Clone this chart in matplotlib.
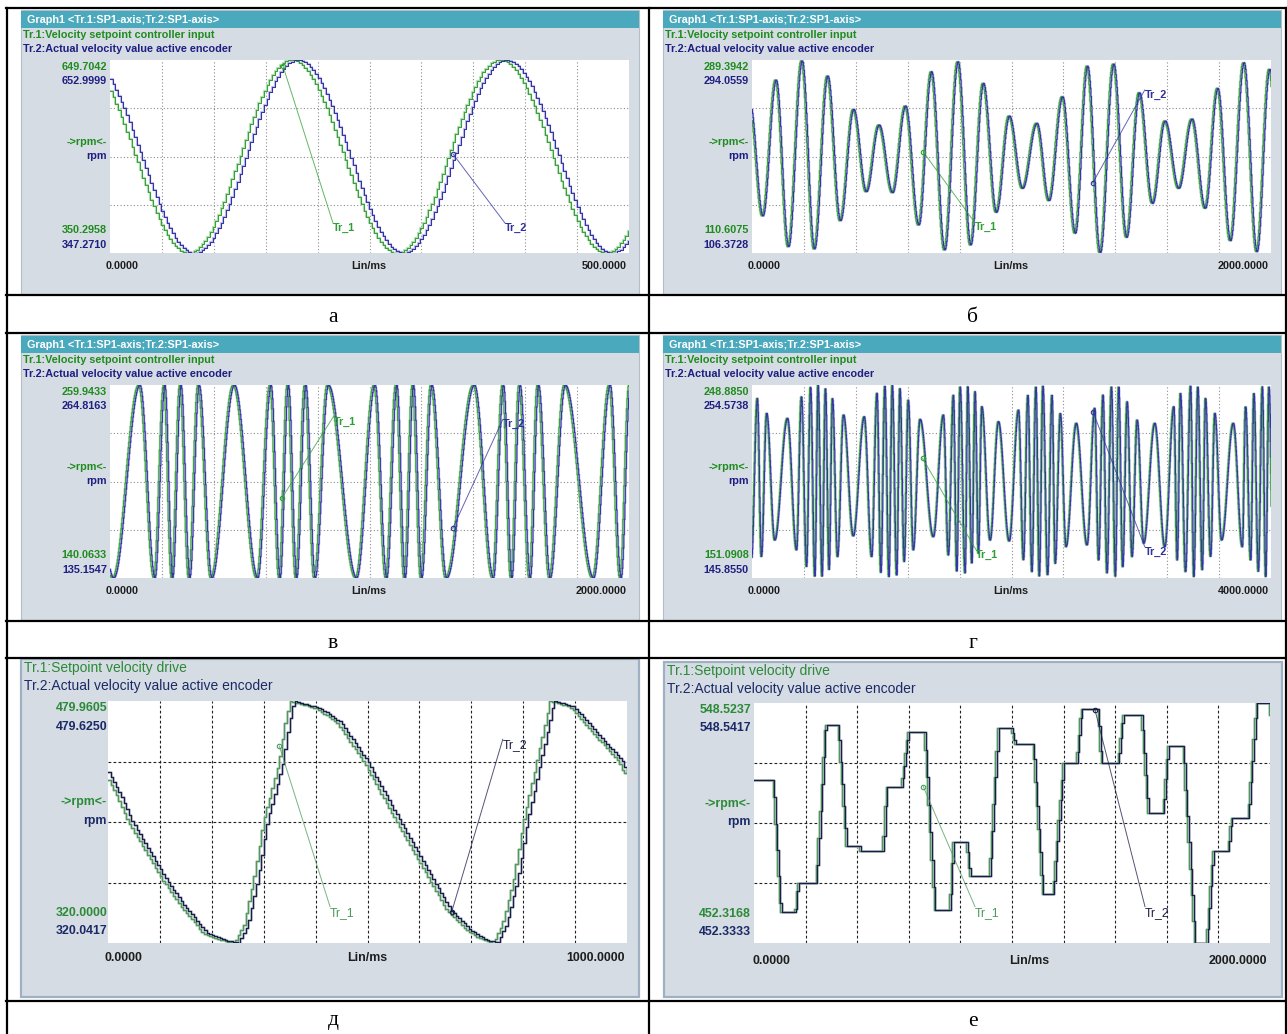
import numpy as np
import matplotlib
matplotlib.use('Agg')
import matplotlib.pyplot as plt
from matplotlib.patches import Rectangle
from matplotlib.lines import Line2D

# ---------------- values ----------------
# а-г: times (ms) of the turning points of Tr.1 and the speed there (rpm),
# Tr.2 is the same signal a few ms later
a_t = [-27, 75, 174, 276, 375, 477, 578]
a_v = [649.7, 350.3, 649.7, 350.3, 649.7, 350.3, 649.7]
a_lag = 6
a_xmax = 500
a_range = (350.2958, 649.7042)
a_ylabels = ['649.7042', '652.9999', '350.2958', '347.2710']
a_tags = [(166.7, 640.0, 214.8, 396.8), (330.4, 503.9, 380.5, 396.8)]

b_t = [-13, 37, 88, 136, 188, 236, 287, 336, 387, 436,
       485, 537, 587, 638, 687, 738, 789, 838, 887, 937,
       987, 1038, 1093, 1140, 1192, 1241, 1288, 1337, 1389, 1439,
       1488, 1539, 1587, 1640, 1691, 1742, 1790, 1839, 1891, 1941,
       1990, 2040]
b_v = [250.0, 144.9, 270.9, 116.4, 288.7, 114.3, 274.6, 140.5, 243.7, 167.4,
       229.2, 166.5, 246.8, 136.5, 278.6, 113.4, 287.8, 118.0, 267.8, 148.3,
       237.5, 170.5, 230.8, 159.1, 255.4, 128.9, 283.8, 110.8, 285.7, 125.1,
       259.1, 156.6, 232.9, 170.5, 234.7, 152.0, 263.2, 122.0, 286.9, 111.8,
       280.8, 115.0]
b_lag = 5
b_xmax = 2000
b_range = (110.6075, 289.3942)
b_ylabels = ['289.3942', '294.0559', '110.6075', '106.3728']
b_tags = [(660.2, 204.2, 857.1, 139.3), (1312.7, 175.4, 1513.5, 261.6)]

v_t = [-95, 8, 109, 167, 205, 235, 267, 301, 337, 386,
       473, 563, 614, 649, 681, 713, 748, 784, 835, 944,
       1015, 1060, 1099, 1131, 1163, 1195, 1234, 1291, 1398, 1471,
       1510, 1542, 1574, 1613, 1645, 1690, 1748, 1857, 1921, 1963,
       1998, 2040]
v_v = [259.9, 140.1, 259.9, 140.1, 259.9, 140.1, 259.9, 140.1, 259.9, 140.1,
       259.9, 140.1, 259.9, 140.1, 259.9, 140.1, 259.9, 140.1, 259.9, 140.1,
       259.9, 140.1, 259.9, 140.1, 259.9, 140.1, 259.9, 140.1, 259.9, 140.1,
       259.9, 140.1, 259.9, 140.1, 259.9, 140.1, 259.9, 140.1, 259.9, 140.1,
       259.9, 140.1]
v_lag = 6
v_xmax = 2000
v_range = (140.0633, 259.9433)
v_ylabels = ['259.9433', '264.8163', '140.0633', '135.1547']
v_tags = [(661.9, 189.6, 860.8, 240.3), (1321.0, 170.9, 1513.8, 238.6)]

g_t = [-10, 36, 67, 108, 170, 268, 338, 376, 415, 446,
       479, 504, 535, 561, 589, 615, 654, 700, 775, 860,
       917, 958, 988, 1019, 1050, 1076, 1110, 1135, 1168, 1199,
       1238, 1290, 1392, 1470, 1508, 1547, 1573, 1599, 1637, 1658,
       1689, 1714, 1740, 1766, 1830, 1894, 1977, 2049, 2087, 2121,
       2152, 2183, 2209, 2237, 2273, 2307, 2332, 2371, 2415, 2494,
       2577, 2636, 2666, 2700, 2731, 2765, 2795, 2821, 2852, 2886,
       2924, 2963, 3014, 3099, 3176, 3246, 3272, 3297, 3336, 3375,
       3400, 3431, 3465, 3490, 3529, 3562, 3614, 3704, 3774, 3799,
       3838, 3863, 3897, 3928, 3954, 3979, 4015]
g_v = [160.0, 242.1, 161.9, 234.5, 170.3, 232.0, 165.3, 242.9, 156.8, 247.7,
       151.8, 248.9, 151.8, 247.2, 155.1, 242.1, 161.9, 233.7, 172.4, 232.8,
       161.9, 244.7, 153.9, 248.4, 151.8, 248.9, 152.6, 247.2, 159.4, 241.3,
       165.3, 231.5, 172.0, 233.7, 162.7, 243.8, 154.3, 248.0, 153.5, 248.0,
       158.5, 245.5, 163.6, 237.9, 170.3, 230.3, 169.8, 236.2, 160.2, 243.8,
       154.3, 248.0, 151.8, 248.4, 152.6, 243.8, 158.5, 234.5, 166.9, 229.5,
       167.8, 237.1, 160.2, 243.8, 153.5, 248.0, 151.8, 248.0, 156.8, 240.4,
       161.9, 231.2, 168.7, 229.5, 166.9, 237.9, 160.2, 244.7, 154.3, 248.4,
       151.8, 248.0, 155.1, 242.1, 161.9, 234.5, 170.3, 229.5, 166.9, 237.9,
       160.2, 244.7, 154.3, 248.0, 151.8, 248.0, 152.0]
g_lag = 6
g_xmax = 4000
g_range = (151.0908, 248.8850)
g_ylabels = ['248.8850', '254.5738', '151.0908', '145.8550']
g_tags = [(1315.0, 211.7, 1727.4, 165.3), (2627.8, 235.4, 3027.0, 166.9)]

# д: points along Tr.2 (ms, rpm), Tr.1 runs d_lead ms ahead
d_t = [0, 23, 45.7, 81, 113.1, 148, 190.2, 225, 250.5, 267.9,
       286.5, 305.8, 336.6, 347, 357.1, 408.5, 447, 498.5, 562.7, 626.9,
       659, 697.6, 726, 749, 766, 787.6, 806.8, 832.5, 848, 858.1,
       896.6, 989.9, 1000.7]
d_v = [433.2, 417.8, 400.2, 379.5, 361.2, 343.8, 326.6, 322.0, 320.0, 331.9,
       361.2, 400.2, 440.3, 464.1, 480.0, 475.1, 466.0, 440.3, 400.2, 361.2,
       341.8, 328.6, 322.6, 320.0, 331.9, 361.2, 400.2, 440.3, 464.1, 480.0,
       476.2, 440.3, 432.4]
d_lead = 8
d_xmax = 1000
d_range = (320.0, 479.9605)
d_ylabels = ['479.9605', '479.6250', '320.0000', '320.0417']
d_tags = [(330.1, 450.2, 427.8, 344.0), (662.3, 340.7, 760.6, 454.6)]

# е: corner points of Tr.1 (ms, rpm), Tr.2 follows e_lag ms later
e_t = [0, 68, 98, 155, 165, 236, 271, 320, 353, 404,
       408, 495, 508, 566, 592, 656, 695, 753, 766, 818,
       831, 908, 941, 992, 1005, 1076, 1115, 1154, 1193, 1244,
       1263, 1328, 1341, 1406, 1425, 1496, 1522, 1580, 1600, 1658,
       1703, 1748, 1774, 1832, 1845, 1910, 1942, 1993, 2000]
e_v = [517.7, 517.7, 464.9, 464.9, 476.5, 476.5, 539.7, 539.7, 491.2, 491.2,
       489.3, 489.3, 515.0, 515.0, 537.0, 537.0, 465.5, 465.5, 492.9, 492.9,
       479.2, 479.2, 538.4, 538.4, 532.1, 532.1, 471.9, 471.9, 524.3, 524.3,
       546.0, 546.0, 524.3, 524.3, 543.7, 543.7, 504.5, 504.5, 531.3, 531.3,
       452.3, 452.3, 489.3, 489.3, 502.3, 502.3, 548.4, 548.4, 541.7]
e_lag = 6
e_xmax = 2000
e_range = (452.3168, 548.5237)
e_ylabels = ['548.5237', '548.5417', '452.3168', '452.3333']
e_tags = [(656.2, 515.0, 856.6, 466.9), (1321.7, 545.7, 1515.5, 466.9)]

captions = ['а', 'б', 'в', 'г', 'д', 'е']

# ---------------- look ----------------
W, H = 1287, 1034
PANEL = '#d6dce4'
TEAL = '#4aa9bd'
GREEN = '#1e8c1e'
NAVY = '#1f1f82'
INK = '#1e1e1e'
SANS = 'Liberation Sans'

fig = plt.figure(figsize=(W / 100, H / 100), dpi=100)
fig.patch.set_facecolor('white')


def fbox(x0, y0, x1, y1):
    return [x0 / W, 1 - y1 / H, (x1 - x0) / W, (y1 - y0) / H]


def rect(x0, y0, x1, y1, **kw):
    l, b, w, h = fbox(x0, y0, x1, y1)
    fig.add_artist(Rectangle((l, b), w, h, transform=fig.transFigure, **kw))


def line(xs, ys, **kw):
    fig.add_artist(Line2D([x / W for x in xs], [1 - y / H for y in ys],
                          transform=fig.transFigure, **kw))


def ftext(x, y, s, **kw):
    kw.setdefault('va', 'center')
    kw.setdefault('family', SANS)
    fig.text(x / W, 1 - y / H, s, **kw)


def wave(t, ext_t, ext_v):
    # half cosine between neighbouring turning points
    ext_t = np.asarray(ext_t, float)
    ext_v = np.asarray(ext_v, float)
    i = np.clip(np.searchsorted(ext_t, t, side='right') - 1, 0, len(ext_t) - 2)
    f = np.clip((t - ext_t[i]) / (ext_t[i + 1] - ext_t[i]), 0, 1)
    return ext_v[i] + (ext_v[i + 1] - ext_v[i]) * (1 - np.cos(np.pi * f)) / 2


def plot_axes(box, xmax, yr, grid):
    ax = fig.add_axes(fbox(*box))
    ax.set_facecolor('white')
    ax.set_xlim(0, xmax)
    ax.set_ylim(*yr)
    ax.set_xticks(np.linspace(0, xmax, 11)[1:-1])
    ax.set_yticks(np.linspace(yr[0], yr[1], 5)[1:-1])
    ax.tick_params(length=0, labelbottom=False, labelleft=False)
    for s in ax.spines.values():
        s.set_visible(False)
    if grid == 'old':
        ax.grid(True, color='#8c8c8c', lw=0.8, ls=(0, (1, 2)))
    else:
        ax.grid(True, color='#222222', lw=0.8, ls=(0, (2.5, 2)))
    return ax


def tags(ax, spec, c1, c2, size, weight):
    for (tc, vc, te, ve), name, c in zip(spec, ['Tr_1', 'Tr_2'], [c1, c2]):
        ax.plot([tc, te], [vc, ve], color=c, lw=0.7, alpha=0.75, clip_on=False, zorder=5)
        ax.plot([tc], [vc], 'o', ms=3.2, mfc='none', mec=c, mew=0.8, zorder=5)
        ax.text(te, ve, name, color=c, ha='left', va='top', fontsize=size,
                fontweight=weight, family=SANS, zorder=6)


def old_panel(px0, py0, ext_t, ext_v, lag, xmax, yr, ylabels, spec, step):
    rect(px0, py0, px0 + 618, py0 + 285, fc=PANEL, ec='#b4bec8', lw=0.8, zorder=-2)
    rect(px0, py0 + 1, px0 + 618, py0 + 18, fc=TEAL, ec='none', zorder=-1)
    fs = 7.8
    ftext(px0 + 6, py0 + 10, 'Graph1 <Tr.1:SP1-axis;Tr.2:SP1-axis>', color='white',
          size=fs, weight='bold')
    ftext(px0 + 2, py0 + 25, 'Tr.1:Velocity setpoint controller input', color=GREEN,
          size=fs, weight='bold')
    ftext(px0 + 2, py0 + 39, 'Tr.2:Actual velocity value active encoder', color=NAVY,
          size=fs, weight='bold')
    texts = [ylabels[0], ylabels[1], '->rpm<-', 'rpm', ylabels[2], ylabels[3]]
    for s, dy, c in zip(texts, [57, 71, 132, 146, 220, 235], [GREEN, NAVY] * 3):
        ftext(px0 + 86, py0 + dy, s, color=c, size=fs, weight='bold', ha='right')
    ftext(px0 + 101, py0 + 256, '0.0000', color=INK, size=fs, weight='bold', ha='center')
    ftext(px0 + 348, py0 + 256, 'Lin/ms', color=INK, size=fs, weight='bold', ha='center')
    ftext(px0 + 606, py0 + 256, '%.4f' % xmax, color=INK, size=fs, weight='bold', ha='right')

    ax = plot_axes((px0 + 89, py0 + 50, px0 + 608, py0 + 243), xmax, yr, 'old')
    ts = np.arange(0, xmax + step, step)
    v1 = wave(ts, ext_t, ext_v)
    v2 = wave(ts - lag, ext_t, ext_v)
    ax.plot(ts, v1, color='#b4deb4', lw=1.6, drawstyle='steps-post')
    ax.plot(ts, v2, color='#bcbce6', lw=1.6, drawstyle='steps-post')
    ax.plot(ts, v1, color='#3aa03e', lw=0.75, drawstyle='steps-post')
    ax.plot(ts, v2, color='#3434a4', lw=0.75, drawstyle='steps-post')
    tags(ax, spec, '#2f9f35', '#30309f', fs, 'bold')


def new_panel(px0, py0, px1, py1, box, v1t, v1, v2t, v2, xmax, yr, ylabels, spec,
              step, lbl_x, lbl_dy, xl_pos):
    rect(px0, py0, px1, py1, fc=PANEL, ec='#9fb0c2', lw=1.6, zorder=-2)
    ftext(px0 + 3, py0 + 9, 'Tr.1:Setpoint velocity drive', color='#2b8a36', size=10)
    ftext(px0 + 3, py0 + 27, 'Tr.2:Actual velocity value active encoder', color='#1b2a66',
          size=10)
    texts = [ylabels[0], ylabels[1], '->rpm<-', 'rpm', ylabels[2], ylabels[3]]
    for s, dy, c in zip(texts, lbl_dy, ['#2b8a36', '#1b2a66'] * 3):
        ftext(lbl_x, py0 + dy, s, color=c, size=8.9, weight='bold', ha='right')
    ftext(xl_pos[0], py0 + 299, '0.0000', color=INK, size=8.9, weight='bold', ha='center')
    ftext(xl_pos[1], py0 + 299, 'Lin/ms', color=INK, size=8.9, weight='bold', ha='center')
    ftext(xl_pos[2], py0 + 299, '%.4f' % xmax, color=INK, size=8.9, weight='bold', ha='right')

    ax = plot_axes(box, xmax, yr, 'new')
    ts = np.arange(0, xmax + step, step)
    s1 = np.interp(ts, v1t, v1)
    s2 = np.interp(ts, v2t, v2)
    ax.plot(ts, s1, color='#c0d0c6', lw=1.8, drawstyle='steps-post')
    ax.plot(ts, s2, color='#bcc0d0', lw=1.8, drawstyle='steps-post')
    ax.plot(ts, s1, color='#4c9a5c', lw=0.9, drawstyle='steps-post')
    ax.plot(ts, s2, color='#1a1d44', lw=0.9, drawstyle='steps-post')
    tags(ax, spec, '#4c9a5c', '#1a1d44', 8.8, 'normal')


# ---------------- panels ----------------
old_panel(21, 10, a_t, a_v, a_lag, a_xmax, a_range, a_ylabels, a_tags, 2.6)
old_panel(663, 10, b_t, b_v, b_lag, b_xmax, b_range, b_ylabels, b_tags, 2.0)
old_panel(21, 335, v_t, v_v, v_lag, v_xmax, v_range, v_ylabels, v_tags, 2.0)
old_panel(663, 335, g_t, g_v, g_lag, g_xmax, g_range, g_ylabels, g_tags, 2.0)

d_t1 = np.asarray(d_t) - d_lead
new_panel(21, 659, 639, 997, (108, 701, 627, 943), d_t1, d_v, d_t, d_v,
          d_xmax, d_range, d_ylabels, d_tags, 5.0, 107,
          [49, 68, 143, 162, 254, 272], (123, 367, 625))
e_t2 = np.asarray(e_t) + e_lag
new_panel(664, 662, 1282, 997, (754, 703, 1270, 943), e_t, e_v, e_t2, e_v,
          e_xmax, e_range, e_ylabels, e_tags, 6.0, 751,
          [48, 66, 142, 160, 252, 270], (771, 1029, 1267))

# ---------------- table around the screenshots ----------------
for y in [8, 295, 333, 621, 657.5, 1000.5]:
    line([6, 1286], [y, y], color='black', lw=1.6, zorder=10)
for x in [7, 648.5, 1285.5]:
    line([x, x], [8, 1034], color='black', lw=1.6, zorder=10)
for cap, x, y in zip(captions, [333, 973] * 3, [318, 318, 643, 643, 1021, 1021]):
    ftext(x, y, cap, color='black', size=15.5, ha='center', family='Liberation Serif')

fig.savefig('out.png', dpi=100, facecolor='white')
